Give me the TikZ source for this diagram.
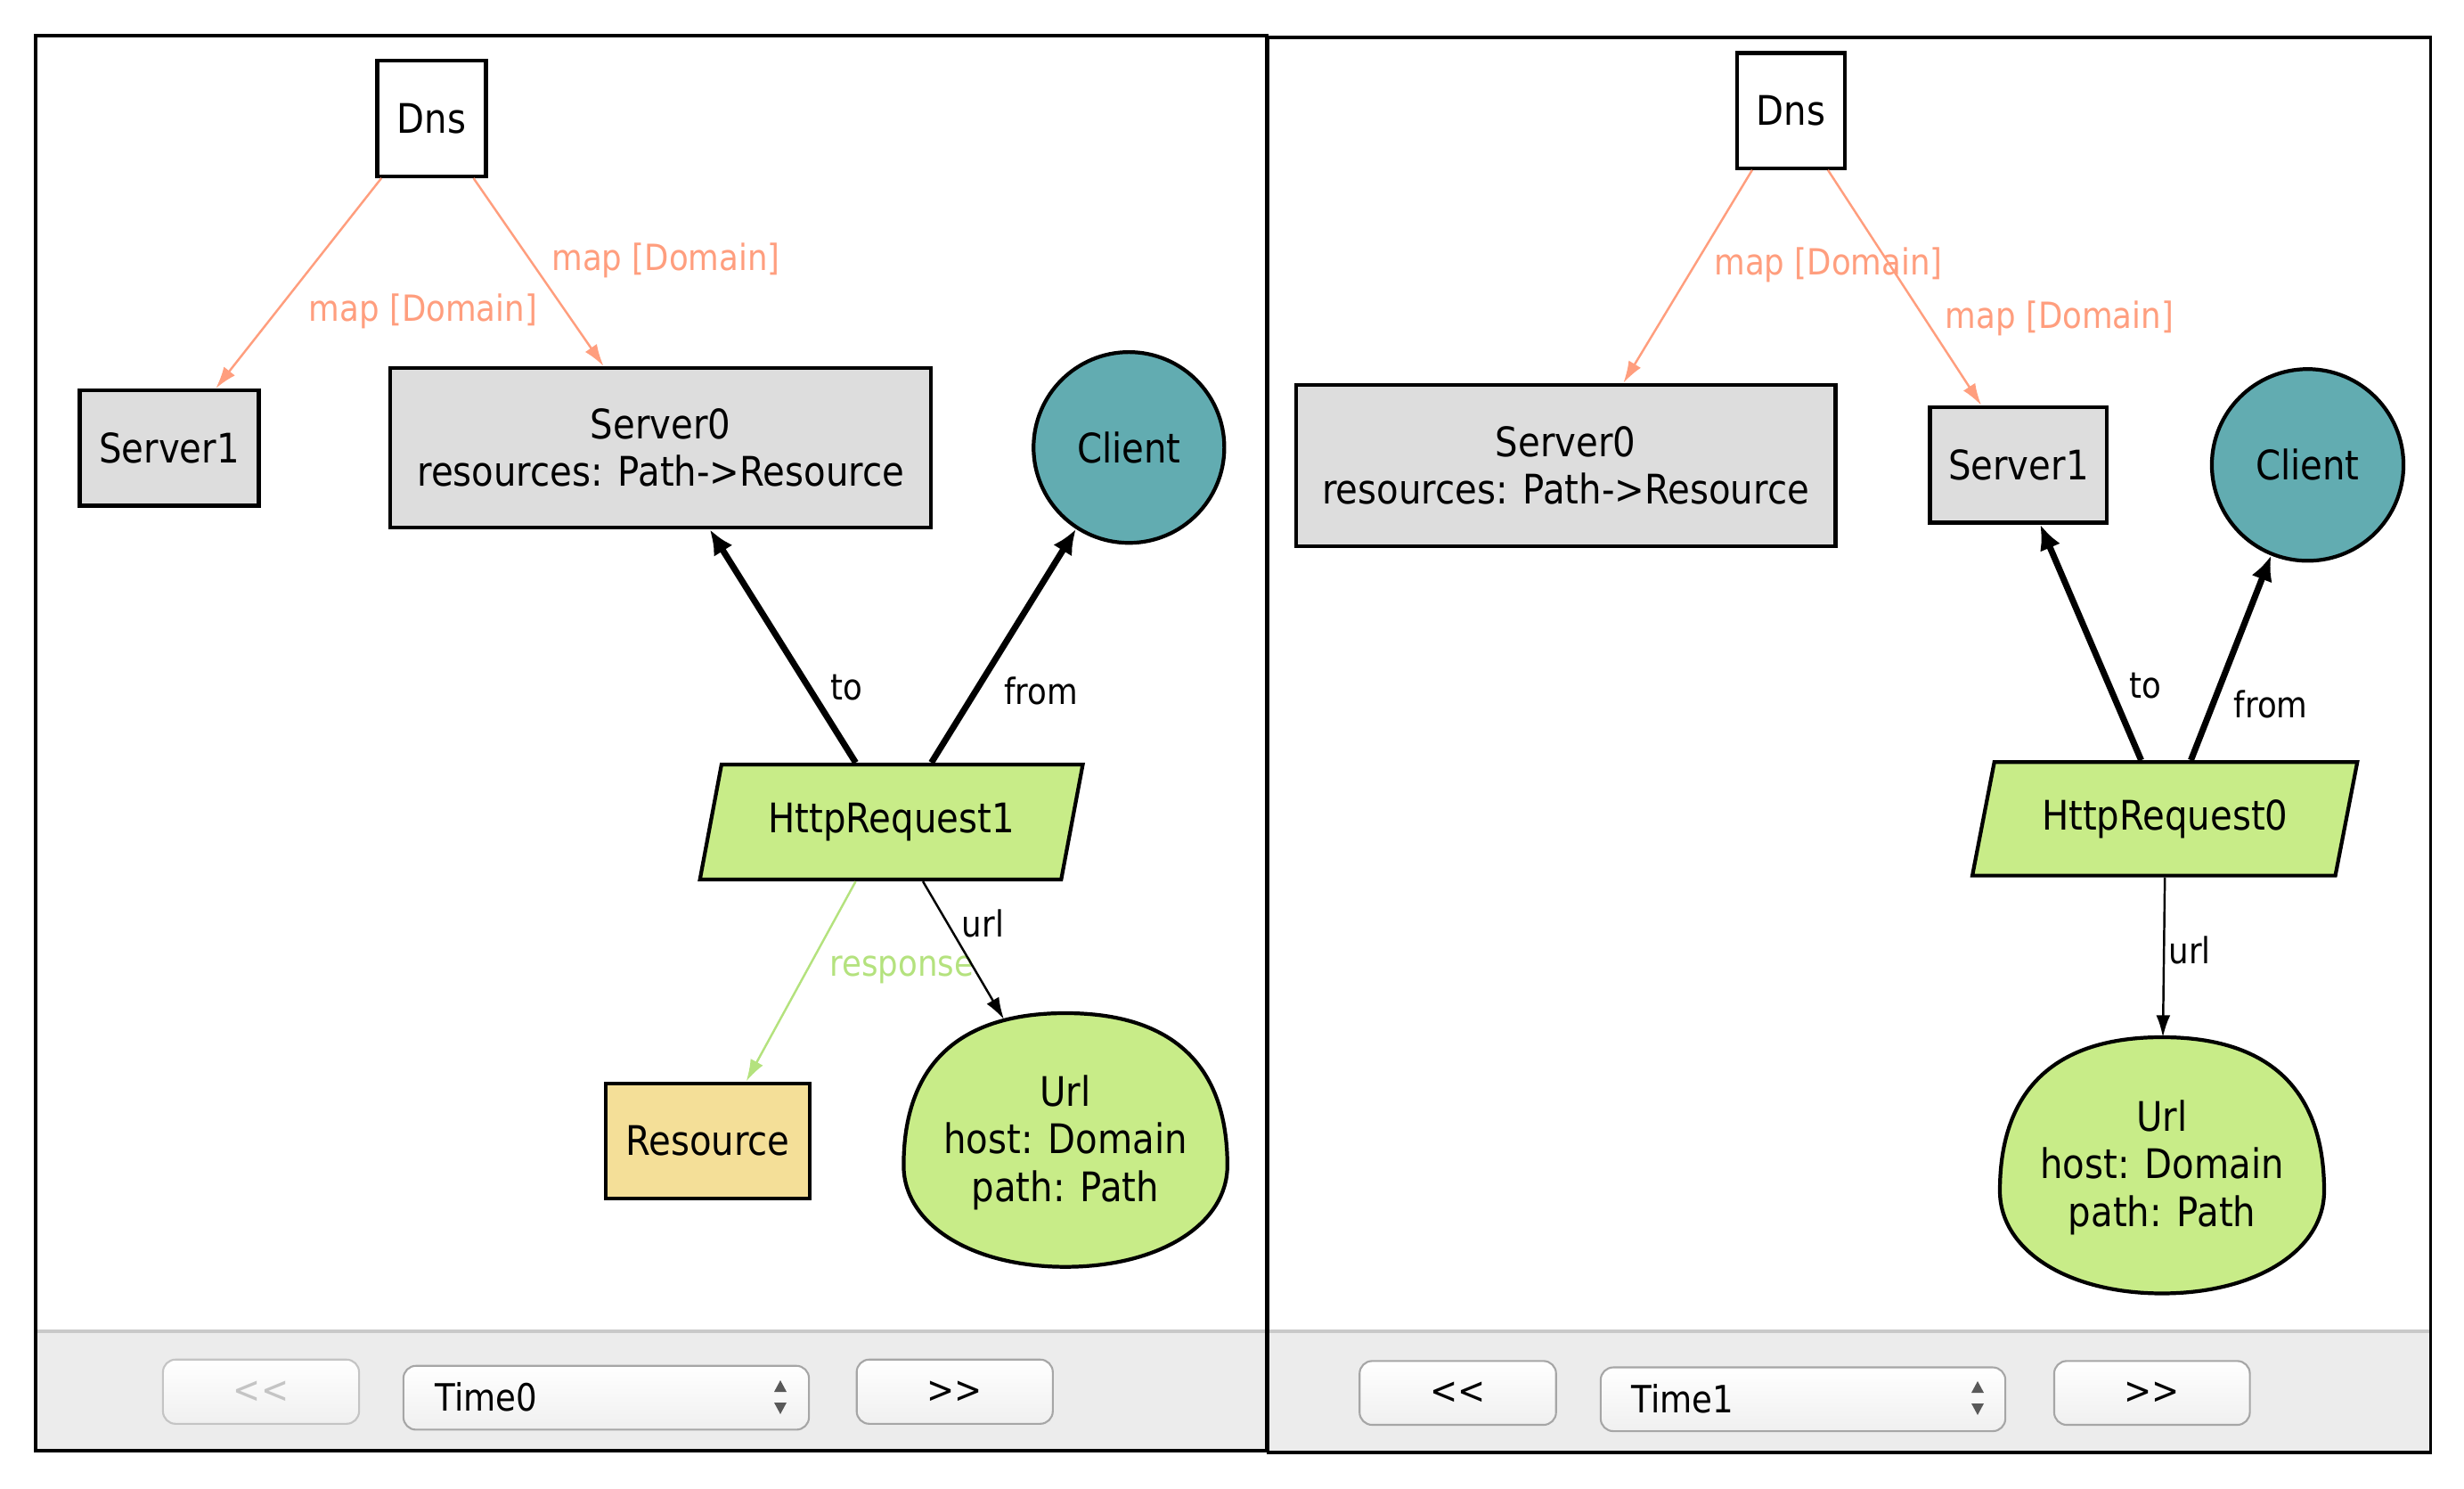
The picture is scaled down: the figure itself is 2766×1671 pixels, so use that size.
\documentclass[tikz,border=0pt]{standalone}
\usepackage{fontspec}
\setmainfont{DejaVu Sans}[FakeStretch=0.88]
\usetikzlibrary{shapes.geometric,arrows.meta}
\definecolor{srvgray}{HTML}{DDDDDD}
\definecolor{clientteal}{HTML}{62ACB1}
\definecolor{reqgreen}{HTML}{C8EC88}
\definecolor{resyellow}{HTML}{F4DF98}
\definecolor{mapsalmon}{HTML}{FF9E7E}
\definecolor{respgreen}{HTML}{B4E27E}
\definecolor{barbg}{HTML}{ECECEC}
\definecolor{barline}{HTML}{C9C9C9}
\definecolor{btnborder}{HTML}{A6A6A6}
\definecolor{btndis}{HTML}{C4C4C4}
\begin{document}
\begin{tikzpicture}[x=0.01cm,y=-0.01cm,
  nodefont/.style={font=\fontsize{13}{15.2}\selectfont},
  lblfont/.style={font=\fontsize{11.5}{13}\selectfont},
  box/.style={draw, line width=1.2pt, inner sep=0pt, align=center, nodefont},
  srv/.style={box, fill=srvgray},
  dnsbox/.style={box, fill=white},
  clientnode/.style={box, circle, fill=clientteal},
  reqnode/.style={box, trapezium, trapezium left angle=67.7, trapezium right angle=112.3, trapezium stretches=true, fill=reqgreen},
  resnode/.style={box, fill=resyellow},
  blobshape/.style={draw, line width=1.2pt, fill=reqgreen},
  blobtext/.style={inner sep=0pt, align=center, nodefont},
  maparrow/.style={draw=mapsalmon, line width=0.7pt, -{Latex[length=7pt,width=4.5pt]}},
  resparrow/.style={draw=respgreen, line width=0.7pt, -{Latex[length=7pt,width=4.5pt]}},
  urlarrow/.style={draw=black, line width=0.7pt, -{Latex[length=7pt,width=4.5pt]}},
  thickarrow/.style={draw=black, line width=2pt, -{Latex[length=8pt,width=7pt]}},
  maplbl/.style={lblfont, text=mapsalmon, inner sep=0pt},
  resplbl/.style={lblfont, text=respgreen, inner sep=0pt},
  edgelbl/.style={lblfont, inner sep=0pt},
  btn/.style={draw=btnborder, line width=0.6pt, rounded corners=4pt, top color=white, bottom color=black!6, inner sep=0pt, font=\fontsize{12.5}{14}\selectfont},
  btntext/.style={inner sep=0pt, font=\fontsize{12}{14}\selectfont},
  spinner/.style={fill=black!65, draw=none}
]
\useasboundingbox (0,0) rectangle (2766,1671);

% ---------- toolbars and panel frames ----------
\fill[barbg] (39.8,1493.8) rectangle (1422,1627.6);
\draw[barline, line width=1pt] (39.8,1493.8) -- (1422,1493.8);
\fill[barbg] (1423.5,1493.8) rectangle (2728.5,1630.4);
\draw[barline, line width=1pt] (1423.5,1493.8) -- (2728.5,1493.8);
\draw[line width=1.1pt] (39.8,39.6) rectangle (1422,1627.6);
\draw[line width=1.1pt] (1423.5,42.3) rectangle (2728.5,1630.4);

% ---------- panel 1 ----------
\node[dnsbox, minimum width=1.22cm, minimum height=1.30cm] (dnsA) at (484.5,132.8) {Dns};
\node[srv, minimum width=2.007cm, minimum height=1.295cm] (srvOneA) at (190,502.8) {Server1};
\node[srv, minimum width=6.067cm, minimum height=1.79cm] (srvZeroA) at (741.7,502.5) {Server0\\resources: Path->Resource};
\node[clientnode, minimum size=2.14cm] (clientA) at (1267.3,502.2) {Client};
\node[reqnode, minimum width=4.33cm, minimum height=1.29cm] (reqA) at (1000.6,922.5) {HttpRequest1};
\node[resnode, minimum width=2.293cm, minimum height=1.29cm] (resA) at (794.4,1280.2) {Resource};
\draw[blobshape] (1196,1137) .. controls (1315.9,1137) and (1377.8,1195.1) .. (1377.8,1308)
  .. controls (1377.8,1373.9) and (1301.4,1421.7) .. (1196,1421.7)
  .. controls (1090.6,1421.7) and (1014.4,1373.9) .. (1014.4,1308)
  .. controls (1014.4,1195.1) and (1076.1,1137) .. (1196,1137) -- cycle;
\node[blobtext] (urlA) at (1196,1282) {Url\\host: Domain\\path: Path};
\coordinate (urlAin) at (1127,1144);

\node[maplbl] (lblMapA1) at (747.5,292.7) {map [Domain]};
\node[maplbl] (lblMapA2) at (475,349.6) {map [Domain]};
\node[edgelbl] (lblToA) at (950.5,772) {to};
\node[edgelbl] (lblFromA) at (1168.8,775) {from};
\node[edgelbl] (lblUrlA) at (1103.5,1036.8) {url};
\node[resplbl] (lblRespA) at (1012.5,1088) {response};

\draw[maparrow] (dnsA.230.7) -- (srvOneA.52.1);
\draw[maparrow] (dnsA.305.3) -- (srvZeroA.125.2);
\draw[thickarrow] (reqA.121.1) -- (srvZeroA.301.3);
\draw[thickarrow] (reqA.56.7) -- (clientA.237.3);
\draw[urlarrow] (reqA.298.2) -- (urlAin);
\draw[resparrow] (reqA.239.7) -- (resA.57.8);

% panel 1 toolbar
\node[btn, draw=btndis, minimum width=2.2cm, minimum height=0.72cm] (prevA) at (293,1561.8) {};
\node[btntext, text=btndis] (prevAtxt) at (293,1561.8) {<{}<};
\node[btn, minimum width=4.55cm, minimum height=0.716cm] (selA) at (680.5,1568.6) {};
\node[btntext, anchor=west] (selAtxt) at (488,1568) {Time0};
\fill[spinner] (869,1562) -- (883,1562) -- (876,1549) -- cycle;
\fill[spinner] (869,1574) -- (883,1574) -- (876,1587) -- cycle;
\node[btn, minimum width=2.2cm, minimum height=0.72cm] (nextA) at (1071.75,1561.8) {};
\node[btntext] (nextAtxt) at (1071.75,1561.8) {>{}>};

% ---------- panel 2 ----------
\node[dnsbox, minimum width=1.21cm, minimum height=1.29cm] (dnsB) at (2010.25,124.1) {Dns};
\node[srv, minimum width=6.054cm, minimum height=1.806cm] (srvZeroB) at (1757.6,522.3) {Server0\\resources: Path->Resource};
\node[srv, minimum width=1.986cm, minimum height=1.295cm] (srvOneB) at (2265.9,521.75) {Server1};
\node[clientnode, minimum size=2.15cm] (clientB) at (2590.5,521.8) {Client};
\node[reqnode, minimum width=4.347cm, minimum height=1.274cm] (reqB) at (2430.15,918.9) {HttpRequest0};
\draw[blobshape] (2427,1164) .. controls (2547.1,1164) and (2609,1222.6) .. (2609,1336.5)
  .. controls (2609,1403.2) and (2532.6,1451.5) .. (2427,1451.5)
  .. controls (2321.4,1451.5) and (2245,1403.2) .. (2245,1336.5)
  .. controls (2245,1222.6) and (2306.9,1164) .. (2427,1164) -- cycle;
\node[blobtext] (urlB) at (2427,1310) {Url\\host: Domain\\path: Path};
\coordinate (urlBin) at (2428,1164);

\node[maplbl] (lblMapB1) at (2052.5,297) {map [Domain]};
\node[maplbl] (lblMapB2) at (2312,357.8) {map [Domain]};
\node[edgelbl] (lblToB) at (2408,769.8) {to};
\node[edgelbl] (lblFromB) at (2549,790.4) {from};
\node[edgelbl] (lblUrlB) at (2458.3,1066.6) {url};

\draw[maparrow] (dnsB.237.2) -- (srvZeroB.55.3);
\draw[maparrow] (dnsB.302.2) -- (srvOneB.122.7);
\draw[thickarrow] (reqB.112.1) -- (srvOneB.290);
\draw[thickarrow] (reqB.66.5) -- (clientB.248.4);
\draw[urlarrow] (reqB.south) -- (urlBin);

% panel 2 toolbar
\node[btn, minimum width=2.204cm, minimum height=0.716cm] (prevB) at (1636.5,1563.2) {};
\node[btntext] (prevBtxt) at (1636.5,1563.2) {<{}<};
\node[btn, minimum width=4.54cm, minimum height=0.715cm] (selB) at (2024,1570.3) {};
\node[btntext, anchor=west] (selBtxt) at (1831,1570) {Time1};
\fill[spinner] (2213,1563) -- (2227,1563) -- (2220,1550) -- cycle;
\fill[spinner] (2213,1575) -- (2227,1575) -- (2220,1588) -- cycle;
\node[btn, minimum width=2.195cm, minimum height=0.716cm] (nextB) at (2415.75,1563.2) {};
\node[btntext] (nextBtxt) at (2415.75,1563.2) {>{}>};
\end{tikzpicture}
\end{document}
